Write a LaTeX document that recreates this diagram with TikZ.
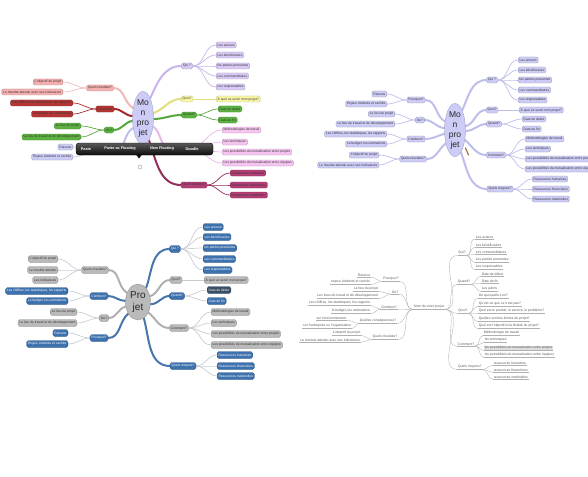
\documentclass[tikz,border=0pt]{standalone}
\usepackage{fontspec}
\setmainfont{Liberation Sans}
\usepackage{xcolor}
\usepackage{tikz}
\usetikzlibrary{shapes.geometric, backgrounds}
\definecolor{mapLav}{RGB}{216,202,244}
\definecolor{mapLavLine}{RGB}{200,180,234}
\definecolor{mapYel}{RGB}{250,246,166}
\definecolor{mapYelLine}{RGB}{226,222,120}
\definecolor{mapGreen}{RGB}{92,178,64}
\definecolor{mapGreenLine}{RGB}{86,168,60}
\definecolor{mapPink}{RGB}{245,197,240}
\definecolor{mapPinkLine}{RGB}{234,181,234}
\definecolor{mapPlum}{RGB}{180,62,118}
\definecolor{mapPlumLine}{RGB}{150,45,90}
\definecolor{mapSalmon}{RGB}{245,176,176}
\definecolor{mapSalmonLine}{RGB}{240,184,184}
\definecolor{mapRed}{RGB}{182,54,54}
\definecolor{mapRedLine}{RGB}{165,45,45}
\definecolor{mapPeri}{RGB}{204,204,246}
\definecolor{mapPeriLine}{RGB}{190,190,236}
\definecolor{mapBlue}{RGB}{62,114,174}
\definecolor{mapBlueLine}{RGB}{72,118,172}
\definecolor{mapSlate}{RGB}{58,78,98}
\definecolor{mapGray}{RGB}{186,186,186}
\definecolor{mapGrayLine}{RGB}{176,176,176}
\definecolor{mapThin}{RGB}{200,204,210}
\definecolor{mapText}{RGB}{90,90,90}

\begin{document}
\begin{tikzpicture}[x=1pt, y=-1pt,
    nd/.style={rectangle, rounded corners=1.4pt, draw=#1!75!black, fill=#1, line width=0.3pt, inner xsep=1.5pt, inner ysep=0.4pt, minimum height=6pt, text=black!80, font=\fontsize{3.3}{4}\selectfont},
    bl/.style={nd=mapBlue, text=white, minimum height=7pt, rounded corners=1.8pt},
    gr/.style={nd=mapGray, minimum height=7pt, rounded corners=1.8pt},
    ctr/.style={ellipse, draw=#1!80!black, fill=#1, line width=0.4pt, inner sep=0pt, minimum width=21pt, minimum height=48pt, align=center, text=black!85, font=\fontsize{8.5}{10}\selectfont},
    br/.style={draw=#1, line width=2pt, line cap=round},
    tw/.style={draw=#1, line width=0.7pt},
    ulline/.style={draw=mapGrayLine, line width=0.35pt},
    tx/.style={inner xsep=0.6pt, inner ysep=0.7pt, text=mapText, font=\fontsize{3.4}{4}\selectfont, append after command={(\tikzlastnode.south west) edge[ulline] (\tikzlastnode.south east)}},
    tn/.style={draw=mapGrayLine, line width=0.35pt},
    tbtxt/.style={text=white, font=\bfseries\fontsize{3.8}{4}\selectfont}
]
\useasboundingbox (0,0) rectangle (588,476);

% ---------- map 1 (coloured) ----------
\node[ctr=mapPeri] (c1) at (143,118) {Mo\\n\\pro\\jet};

\node[nd=mapLav] (a1qui) at (187,66) {Qui ?};
\node[nd=mapLav, anchor=west] (a1qui1) at (216,45) {Les acteurs};
\node[nd=mapLav, anchor=west] (a1qui2) at (216,55) {Les bénéficiaires};
\node[nd=mapLav, anchor=west] (a1qui3) at (216,66) {les parties prenantes};
\node[nd=mapLav, anchor=west] (a1qui4) at (216,76) {Les commanditaires};
\node[nd=mapLav, anchor=west] (a1qui5) at (216,87) {Les responsables};
\node[nd=mapYel] (a1quoi) at (187,99) {Quoi?};
\node[nd=mapYel, anchor=west] (a1quoi1) at (216,99) {À quoi va servir mon projet?};
\node[nd=mapGreen] (a1qd) at (189,115) {Quand?};
\node[nd=mapGreen, anchor=west] (a1qd1) at (218,109) {Date de début};
\node[nd=mapGreen, anchor=west] (a1qd2) at (218,120) {Date de fin};
\node[nd=mapPink] (a1cmt) at (180,148) {Comment?};
\node[nd=mapPink, anchor=west] (a1cmt1) at (222,130) {Méthodologies de travail};
\node[nd=mapPink, anchor=west] (a1cmt2) at (222,142) {Les techniques};
\node[nd=mapPink, anchor=west] (a1cmt3) at (222,152) {Les possibilités de mutualisation entre projets};
\node[nd=mapPink, anchor=west] (a1cmt4) at (222,163) {Les possibilités de mutualisation entre équipes};
\node[nd=mapPlum] (a1moy) at (194,185) {Quels moyens?};
\node[nd=mapPlum, anchor=west] (a1moy1) at (230,173) {Ressources humaines};
\node[nd=mapPlum, anchor=west] (a1moy2) at (230,185) {Ressources financières};
\node[nd=mapPlum, anchor=west] (a1moy3) at (230,195) {Ressources matérielles};

\node[nd=mapSalmon] (a1res) at (100,88) {Quels résultats?};
\node[nd=mapSalmon, anchor=east] (a1res1) at (63,82) {L'objectif du projet};
\node[nd=mapSalmon, anchor=east] (a1res2) at (63,92) {Le résultat attendu avec ses indicateurs};
\node[nd=mapRed] (a1cb) at (105,109) {Combien?};
\node[nd=mapRed, anchor=east] (a1cb1) at (73,103) {Les chiffres, les statistiques, les rapports};
\node[nd=mapRed, anchor=east] (a1cb2) at (73,114) {Le budget, les estimations};
\node[nd=mapGreen] (a1ou) at (109,130) {Où?};
\node[nd=mapGreen, anchor=east] (a1ou1) at (81,126) {Le lieu du projet};
\node[nd=mapGreen, anchor=east] (a1ou2) at (81,137) {Le lieu de travail et de développement};
\node[nd=mapPeri] (a1pq) at (105,151) {Pourquoi?};
\node[nd=mapPeri, anchor=east] (a1pq1) at (73,147) {Raisons};
\node[nd=mapPeri, anchor=east] (a1pq2) at (73,157) {Enjeux évidents et cachés};

\begin{scope}[on background layer]
\draw[br=mapLavLine] (c1.70) to[out=65,in=180] (a1qui.west);
\draw[br=mapYelLine] (c1.25) to[out=20,in=180] (a1quoi.west);
\draw[br=mapGreenLine] (c1.-5) to[out=0,in=180] (a1qd.west);
\draw[br=mapPinkLine] (c1.-40) to[out=-35,in=180] (a1cmt.west);
\draw[br=mapPlumLine] (c1.-75) to[out=-70,in=180] (a1moy.west);
\draw[br=mapSalmonLine] (c1.135) to[out=150,in=0] (a1res.east);
\draw[br=mapRedLine] (c1.170) to[out=175,in=0] (a1cb.east);
\draw[br=mapGreenLine] (c1.-165) to[out=-170,in=0] (a1ou.east);
\draw[br=mapPeriLine] (c1.-135) to[out=-150,in=0] (a1pq.east);
\foreach \k in {1,...,5} \draw[tw=mapLavLine] (a1qui.east) to[out=0,in=180] (a1qui\k.west);
\draw[tw=mapYelLine] (a1quoi.east) -- (a1quoi1.west);
\foreach \k in {1,2} \draw[tw=mapGreenLine] (a1qd.east) to[out=0,in=180] (a1qd\k.west);
\foreach \k in {1,...,4} \draw[tw=mapPinkLine] (a1cmt.east) to[out=0,in=180] (a1cmt\k.west);
\foreach \k in {1,2,3} \draw[tw=mapPlumLine] (a1moy.east) to[out=0,in=180] (a1moy\k.west);
\foreach \k in {1,2} \draw[tw=mapSalmonLine] (a1res.west) to[out=180,in=0] (a1res\k.east);
\foreach \k in {1,2} \draw[tw=mapRedLine] (a1cb.west) to[out=180,in=0] (a1cb\k.east);
\foreach \k in {1,2} \draw[tw=mapGreenLine] (a1ou.west) to[out=180,in=0] (a1ou\k.east);
\foreach \k in {1,2} \draw[tw=mapPeriLine] (a1pq.west) to[out=180,in=0] (a1pq\k.east);
\end{scope}

% edit toolbar over map 1
\node[rectangle, rounded corners=3pt, draw=black, top color=black!65, bottom color=black!95, minimum width=137pt, minimum height=12pt] (tbar) at (144.5,149) {};
\node[tbtxt] (tbpaste) at (86,149) {Paste};
\node[tbtxt] (tbfloat) at (120,149) {Paste as Floating};
\node[tbtxt] (tbnew) at (162,149) {New Floating};
\node[tbtxt] (tbdoodle) at (192,149) {Doodle};
\fill[black!95] (136,154.5) -- (142,154.5) -- (139,158.5) -- cycle;
\node[circle, draw=black!40, fill=white, line width=0.4pt, minimum size=4pt, inner sep=0pt] (tbdot) at (140,167) {};

% ---------- map 2 (periwinkle) ----------
\node[ctr=mapPeri, minimum height=45pt] (c2) at (455,130) {Mo\\n\\pro\\jet};

\node[nd=mapPeri] (b2qui) at (492,80) {Qui ?};
\node[nd=mapPeri, anchor=west] (b2qui1) at (518,60) {Les acteurs};
\node[nd=mapPeri, anchor=west] (b2qui2) at (518,70) {Les bénéficiaires};
\node[nd=mapPeri, anchor=west] (b2qui3) at (518,80) {les parties prenantes};
\node[nd=mapPeri, anchor=west] (b2qui4) at (518,90) {Les commanditaires};
\node[nd=mapPeri, anchor=west] (b2qui5) at (518,100) {Les responsables};
\node[nd=mapPeri] (b2quoi) at (492,110) {Quoi?};
\node[nd=mapPeri, anchor=west] (b2quoi1) at (519,110) {À quoi va servir mon projet?};
\node[nd=mapPeri] (b2qd) at (494,124) {Quand?};
\node[nd=mapPeri, anchor=west] (b2qd1) at (522,119) {Date de début};
\node[nd=mapPeri, anchor=west] (b2qd2) at (522,129) {Date de fin};
\node[nd=mapPeri] (b2cmt) at (496,155) {Comment?};
\node[nd=mapPeri, anchor=west] (b2cmt1) at (525,139) {Méthodologies de travail};
\node[nd=mapPeri, anchor=west] (b2cmt2) at (525,149) {Les techniques};
\node[nd=mapPeri, anchor=west] (b2cmt3) at (525,159) {Les possibilités de mutualisation entre projets};
\node[nd=mapPeri, anchor=west] (b2cmt4) at (525,169) {Les possibilités de mutualisation entre équipes};
\node[nd=mapPeri] (b2moy) at (500,189) {Quels moyens?};
\node[nd=mapPeri, anchor=west] (b2moy1) at (532,179) {Ressources humaines};
\node[nd=mapPeri, anchor=west] (b2moy2) at (532,189) {Ressources financières};
\node[nd=mapPeri, anchor=west] (b2moy3) at (532,199) {Ressources matérielles};

\node[nd=mapPeri] (b2pq) at (416,100) {Pourquoi?};
\node[nd=mapPeri, anchor=east] (b2pq1) at (387,94) {Raisons};
\node[nd=mapPeri, anchor=east] (b2pq2) at (387,104) {Enjeux évidents et cachés};
\node[nd=mapPeri] (b2ou) at (420,120) {Où?};
\node[nd=mapPeri, anchor=east] (b2ou1) at (395,114) {Le lieu du projet};
\node[nd=mapPeri, anchor=east] (b2ou2) at (395,124) {Le lieu de travail et de développement};
\node[nd=mapPeri] (b2cb) at (416,139) {Combien?};
\node[nd=mapPeri, anchor=east] (b2cb1) at (387,134) {Les chiffres, les statistiques, les rapports};
\node[nd=mapPeri, anchor=east] (b2cb2) at (387,144) {Le budget, les estimations};
\node[nd=mapPeri] (b2res) at (413,159) {Quels résultats?};
\node[nd=mapPeri, anchor=east] (b2res1) at (379,155) {L'objectif du projet};
\node[nd=mapPeri, anchor=east] (b2res2) at (379,165) {Le résultat attendu avec ses indicateurs};

\begin{scope}[on background layer]
\draw[br=mapPeriLine] (c2.70) to[out=65,in=180] (b2qui.west);
\draw[br=mapPeriLine] (c2.20) to[out=15,in=180] (b2quoi.west);
\draw[br=mapPeriLine] (c2.-5) to[out=0,in=180] (b2qd.west);
\draw[br=mapPeriLine] (c2.-45) to[out=-40,in=180] (b2cmt.west);
\draw[br=mapPeriLine] (c2.-75) to[out=-70,in=180] (b2moy.west);
\draw[br=mapPeriLine] (c2.140) to[out=150,in=0] (b2pq.east);
\draw[br=mapPeriLine] (c2.170) to[out=175,in=0] (b2ou.east);
\draw[br=mapPeriLine] (c2.-160) to[out=-165,in=0] (b2cb.east);
\draw[br=mapPeriLine] (c2.-125) to[out=-140,in=0] (b2res.east);
\foreach \k in {1,...,5} \draw[tw=mapPeriLine] (b2qui.east) to[out=0,in=180] (b2qui\k.west);
\draw[tw=mapPeriLine] (b2quoi.east) -- (b2quoi1.west);
\foreach \k in {1,2} \draw[tw=mapPeriLine] (b2qd.east) to[out=0,in=180] (b2qd\k.west);
\foreach \k in {1,...,4} \draw[tw=mapPeriLine] (b2cmt.east) to[out=0,in=180] (b2cmt\k.west);
\foreach \k in {1,2,3} \draw[tw=mapPeriLine] (b2moy.east) to[out=0,in=180] (b2moy\k.west);
\foreach \k in {1,2} \draw[tw=mapPeriLine] (b2pq.west) to[out=180,in=0] (b2pq\k.east);
\foreach \k in {1,2} \draw[tw=mapPeriLine] (b2ou.west) to[out=180,in=0] (b2ou\k.east);
\foreach \k in {1,2} \draw[tw=mapPeriLine] (b2cb.west) to[out=180,in=0] (b2cb\k.east);
\foreach \k in {1,2} \draw[tw=mapPeriLine] (b2res.west) to[out=180,in=0] (b2res\k.east);
\end{scope}
% pen cursor
\draw[brown!80!black, line width=1.1pt, line cap=round] (465.5,148) -- (468.5,155);

% ---------- map 3 (blue and grey) ----------
\node[ctr=mapGray, minimum width=25pt, minimum height=36pt, font=\fontsize{10}{12}\selectfont] (c3) at (138,302) {Pro\\jet};

\node[bl] (d3qui) at (175,249) {Qui ?};
\node[bl, anchor=west] (d3qui1) at (203,227) {Les acteurs};
\node[bl, anchor=west] (d3qui2) at (203,237) {Les bénéficiaires};
\node[bl, anchor=west] (d3qui3) at (203,248) {les parties prenantes};
\node[bl, anchor=west] (d3qui4) at (203,259) {Les commanditaires};
\node[bl, anchor=west] (d3qui5) at (203,270) {Les responsables};
\node[gr] (d3quoi) at (176,280) {Quoi?};
\node[gr, anchor=west] (d3quoi1) at (204,280) {À quoi va servir mon projet?};
\node[bl] (d3qd) at (177,296) {Quand?};
\node[bl, fill=mapSlate, anchor=west] (d3qd1) at (207,290) {Date de début};
\node[bl, anchor=west] (d3qd2) at (207,301) {Date de fin};
\node[gr] (d3cmt) at (179,328) {Comment?};
\node[gr, anchor=west] (d3cmt1) at (211,312) {Méthodologies de travail};
\node[gr, anchor=west] (d3cmt2) at (211,323) {Les techniques};
\node[gr, anchor=west] (d3cmt3) at (211,334) {Les possibilités de mutualisation entre projets};
\node[gr, anchor=west] (d3cmt4) at (211,345) {Les possibilités de mutualisation entre équipes};
\node[bl] (d3moy) at (183,366) {Quels moyens?};
\node[bl, anchor=west] (d3moy1) at (217,355) {Ressources humaines};
\node[bl, anchor=west] (d3moy2) at (217,366) {Ressources financières};
\node[bl, anchor=west] (d3moy3) at (217,376) {Ressources matérielles};

\node[gr] (d3res) at (95,270) {Quels résultats?};
\node[gr, anchor=east] (d3res1) at (58,259) {L'objectif du projet};
\node[gr, anchor=east] (d3res2) at (58,270) {Le résultat attendu};
\node[gr, anchor=east] (d3res3) at (58,280) {Les indicateurs};
\node[bl] (d3cb) at (99,296) {Combien?};
\node[bl, anchor=east] (d3cb1) at (68,291) {Les chiffres, les statistiques, les rapports};
\node[bl, anchor=east] (d3cb2) at (68,301) {Le budget, les estimations};
\node[gr] (d3ou) at (104,318) {Où?};
\node[gr, anchor=east] (d3ou1) at (77,312) {Le lieu du projet};
\node[gr, anchor=east] (d3ou2) at (77,323) {Le lieu de travail et de développement};
\node[bl] (d3pq) at (99,338) {Pourquoi?};
\node[bl, anchor=east] (d3pq1) at (68,333) {Raisons};
\node[bl, anchor=east] (d3pq2) at (68,344) {Enjeux évidents et cachés};

\begin{scope}[on background layer]
\draw[br=mapBlueLine] (c3.60) to[out=70,in=180] (d3qui.west);
\draw[br=mapGrayLine] (c3.25) to[out=20,in=180] (d3quoi.west);
\draw[br=mapBlueLine] (c3.-10) to[out=0,in=180] (d3qd.west);
\draw[br=mapGrayLine] (c3.-45) to[out=-40,in=180] (d3cmt.west);
\draw[br=mapBlueLine] (c3.-70) to[out=-75,in=180] (d3moy.west);
\draw[br=mapGrayLine] (c3.140) to[out=150,in=0] (d3res.east);
\draw[br=mapBlueLine] (c3.175) to[out=180,in=0] (d3cb.east);
\draw[br=mapGrayLine] (c3.-160) to[out=-165,in=0] (d3ou.east);
\draw[br=mapBlueLine] (c3.-130) to[out=-140,in=0] (d3pq.east);
\foreach \k in {1,...,5} \draw[tw=mapThin] (d3qui.east) to[out=0,in=180] (d3qui\k.west);
\draw[tw=mapThin] (d3quoi.east) -- (d3quoi1.west);
\foreach \k in {1,2} \draw[tw=mapThin] (d3qd.east) to[out=0,in=180] (d3qd\k.west);
\foreach \k in {1,...,4} \draw[tw=mapThin] (d3cmt.east) to[out=0,in=180] (d3cmt\k.west);
\foreach \k in {1,2,3} \draw[tw=mapThin] (d3moy.east) to[out=0,in=180] (d3moy\k.west);
\foreach \k in {1,2,3} \draw[tw=mapThin] (d3res.west) to[out=180,in=0] (d3res\k.east);
\foreach \k in {1,2} \draw[tw=mapThin] (d3cb.west) to[out=180,in=0] (d3cb\k.east);
\foreach \k in {1,2} \draw[tw=mapThin] (d3ou.west) to[out=180,in=0] (d3ou\k.east);
\foreach \k in {1,2} \draw[tw=mapThin] (d3pq.west) to[out=180,in=0] (d3pq\k.east);
\end{scope}

% ---------- map 4 (plain outline) ----------
\node[tx] (e4ctr) at (429,307) {Nom de votre projet};

\node[tx] (e4pq) at (391,279) {Pourquoi?};
\node[tx, anchor=east] (e4pq1) at (371,275) {Raisons};
\node[tx, anchor=east] (e4pq2) at (371,282) {enjeux évidents et cachés};
\node[tx] (e4ou) at (395,292) {Où?};
\node[tx, anchor=east] (e4ou1) at (379,289) {Le lieu du projet};
\node[tx, anchor=east] (e4ou2) at (379,296) {Les lieux de travail et de développement};
\node[tx] (e4cb) at (389,307) {Combien?};
\node[tx, anchor=east] (e4cb1) at (371,303) {Les chiffres, les statistiques, les rapports};
\node[tx, anchor=east] (e4cb2) at (371,311) {le budget, les estimations};
\node[tx] (e4csq) at (378,321) {Quelles conséquences?};
\node[tx, anchor=east] (e4csq1) at (347,318) {sur l'environnement};
\node[tx, anchor=east] (e4csq2) at (352,326) {sur l'entreprise ou l'organisation};
\node[tx] (e4res) at (385,337) {Quels résultats?};
\node[tx, anchor=east] (e4res1) at (361,333) {L'objectif du projet};
\node[tx, anchor=east] (e4res2) at (361,340) {Le résultat attendu avec ses indicateurs};

\node[tx] (e4qui) at (462,253) {Qui?};
\node[tx, anchor=west] (e4qui1) at (475,237) {Les acteurs};
\node[tx, anchor=west] (e4qui2) at (475,245) {Les bénéficiaires};
\node[tx, anchor=west] (e4qui3) at (475,252) {Les commanditaires};
\node[tx, anchor=west] (e4qui4) at (475,260) {Les parties prenantes};
\node[tx, anchor=west] (e4qui5) at (475,267) {Les responsables};
\node[tx] (e4qd) at (464,282) {Quand?};
\node[tx, anchor=west] (e4qd1) at (481,274) {Date de début};
\node[tx, anchor=west] (e4qd2) at (481,281) {Date de fin};
\node[tx, anchor=west] (e4qd3) at (481,289) {Les jalons};
\node[tx] (e4quoi) at (463,311) {Quoi?};
\node[tx, anchor=west] (e4quoi1) at (478,296) {De quoi parle-t-on?};
\node[tx, anchor=west] (e4quoi2) at (478,304) {Qu'est-ce que ce n'est pas?};
\node[tx, anchor=west] (e4quoi3) at (478,311) {Quel est le produit, le service, le problème?};
\node[tx, anchor=west] (e4quoi4) at (478,319) {Quelles sont les limites du projet?};
\node[tx, anchor=west] (e4quoi5) at (478,326) {Quel est l'objectif et la finalité du projet?};
\node[tx] (e4cmt) at (466,344) {Comment?};
\node[tx, anchor=west] (e4cmt1) at (483,333) {Méthodologie de travail};
\node[tx, anchor=west] (e4cmt2) at (484,340) {les techniques};
\node[tx, anchor=west, fill=black!13] (e4cmt3) at (484,348) {les possibilités de mutualisation entre projets};
\node[tx, anchor=west] (e4cmt4) at (484,355) {les possibilités de mutualisation entre équipes};
\node[tx] (e4moy) at (470,367) {Quels moyens?};
\node[tx, anchor=west] (e4moy1) at (493,363) {ressources humaines};
\node[tx, anchor=west] (e4moy2) at (493,370) {ressources financières};
\node[tx, anchor=west] (e4moy3) at (493,377) {ressources matérielles};

\begin{scope}[on background layer]
\foreach \b in {e4pq,e4ou,e4cb,e4csq,e4res}
  \draw[tn] (e4ctr.south west) to[out=180,in=0] (\b.south east);
\foreach \b in {e4qui,e4qd,e4quoi,e4cmt,e4moy}
  \draw[tn] (e4ctr.south east) to[out=0,in=180] (\b.south west);
\foreach \b in {e4pq,e4ou,e4cb,e4csq,e4res}
  \foreach \k in {1,2} \draw[tn] (\b.south west) to[out=180,in=0] (\b\k.south east);
\foreach \k in {1,...,5} \draw[tn] (e4qui.south east) to[out=0,in=180] (e4qui\k.south west);
\foreach \k in {1,2,3} \draw[tn] (e4qd.south east) to[out=0,in=180] (e4qd\k.south west);
\foreach \k in {1,...,5} \draw[tn] (e4quoi.south east) to[out=0,in=180] (e4quoi\k.south west);
\foreach \k in {1,...,4} \draw[tn] (e4cmt.south east) to[out=0,in=180] (e4cmt\k.south west);
\foreach \k in {1,2,3} \draw[tn] (e4moy.south east) to[out=0,in=180] (e4moy\k.south west);
\end{scope}

\end{tikzpicture}
\end{document}
